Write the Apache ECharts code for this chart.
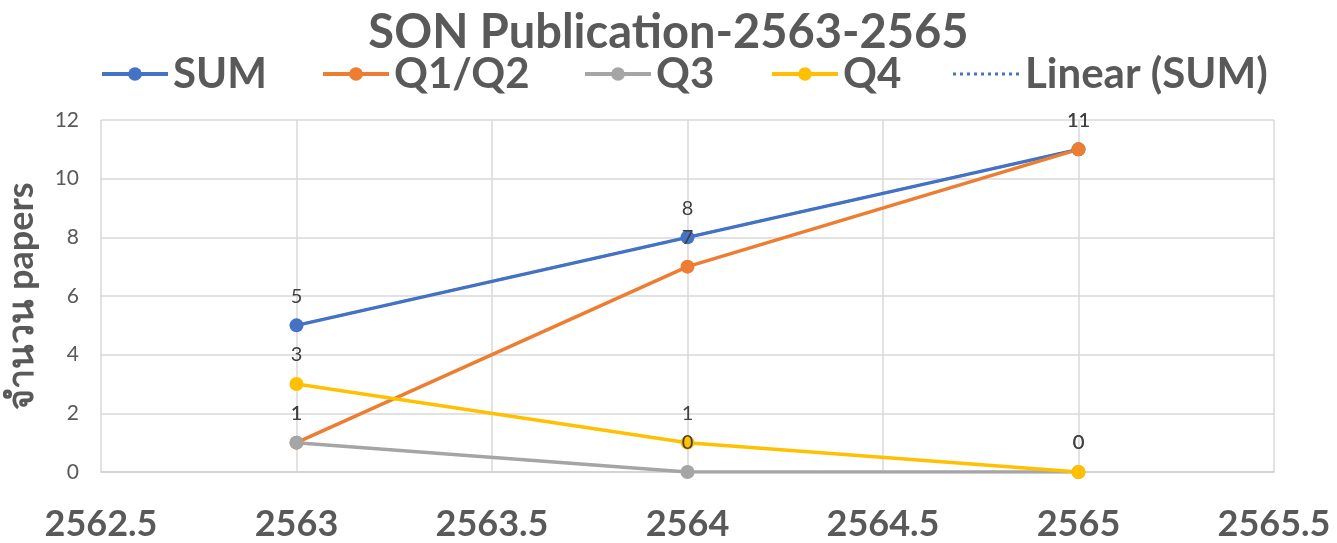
<!DOCTYPE html>
<html>
<head>
<meta charset="utf-8">
<script src="https://cdn.jsdelivr.net/npm/echarts@6/dist/echarts.min.js"></script>
<style>
  html, body { margin: 0; padding: 0; background: #fff; }
  #chart { width: 1337px; height: 543px; }
</style>
</head>
<body>
<div id="chart"></div>
<script>
// data
var years = [2563, 2564, 2565];
var sumValues = [5, 8, 11];
var q12Values = [1, 7, 11];
var q3Values = [1, 0, 0];
var q4Values = [3, 1, 0];
var trendSum = [5, 8, 11];  // linear trendline of SUM
var seriesNames = ['SUM', 'Q1/Q2', 'Q3', 'Q4', 'Linear (SUM)'];

var FONT = 'Lato, "Open Sans", "Noto Sans", sans-serif';
var GREY = '#595959';

function pairs(vals) {
    return years.map(function (y, i) { return [y, vals[i]]; });
}

function lineSeries(name, vals, color) {
    return {
        name: name,
        type: 'line',
        data: pairs(vals),
        symbol: 'circle',
        symbolSize: 14,
        lineStyle: { width: 3.5, color: color },
        itemStyle: { color: color },
        label: {
            show: true,
            position: 'top',
            distance: 12,
            fontSize: 20,
            fontFamily: FONT,
            color: '#404040'
        }
    };
}

// dotted line icon for the trendline legend entry
var dots = '';
for (var k = 0; k < 10; k++) {
    dots += 'M' + (k * 7) + ' 0h3v3h-3z';
}

var chart = echarts.init(document.getElementById('chart'));

var legendLeft = [95, 316, 578, 765, 948];
var legends = seriesNames.map(function (n, i) {
    var lg = {
        data: [n],
        left: legendLeft[i],
        top: 48,
        itemWidth: 66,
        itemHeight: 17,
        lineStyle: { width: 4 },
        textStyle: { fontSize: 42, fontWeight: 'bold', color: GREY, fontFamily: FONT }
    };
    if (n === 'Linear (SUM)') {
        lg.icon = 'path://' + dots;
        lg.itemHeight = 3;
        lg.itemWidth = 68;
    }
    return lg;
});

var option = {
    animation: false,
    title: {
        text: 'SON Publication-2563-2565',
        left: 'center',
        top: 4,
        textStyle: { fontSize: 47, fontWeight: 'bold', color: GREY, fontFamily: FONT }
    },
    legend: legends,
    grid: { left: 101, right: 63, top: 120, bottom: 71, outerBoundsMode: 'none', containLabel: false },
    xAxis: {
        type: 'value',
        min: 2562.5,
        max: 2565.5,
        interval: 0.5,
        axisLine: { show: true, lineStyle: { color: '#D0D0D0', width: 1.5 } },
        axisTick: { show: false },
        splitLine: { show: true, lineStyle: { color: '#D9D9D9', width: 1.5 } },
        axisLabel: {
            margin: 34,
            fontSize: 36,
            fontWeight: 'bold',
            color: GREY,
            fontFamily: FONT,
            formatter: function (v) { return String(v); }
        }
    },
    yAxis: {
        type: 'value',
        min: 0,
        max: 12,
        interval: 2,
        name: 'จำนวน papers',
        nameLocation: 'middle',
        nameRotate: 90,
        nameGap: 62,
        nameTextStyle: { fontSize: 36, fontWeight: 'bold', color: GREY, fontFamily: FONT },
        axisLine: { show: false },
        axisTick: { show: false },
        splitLine: { lineStyle: { color: '#D9D9D9', width: 1.5 } },
        axisLabel: { margin: 22, fontSize: 21, color: GREY, fontFamily: FONT }
    },
    series: [
        lineSeries('SUM', sumValues, '#4472C4'),
        {
            name: 'Linear (SUM)',
            type: 'line',
            data: pairs(trendSum),
            symbol: 'none',
            lineStyle: { width: 2.5, type: 'dotted', color: '#4472C4' },
            itemStyle: { color: '#4472C4' }
        },
        lineSeries('Q1/Q2', q12Values, '#ED7D31'),
        lineSeries('Q3', q3Values, '#A5A5A5'),
        lineSeries('Q4', q4Values, '#FFC000')
    ]
};

chart.setOption(option);
window.addEventListener('resize', function () { chart.resize(); });
</script>
</body>
</html>
